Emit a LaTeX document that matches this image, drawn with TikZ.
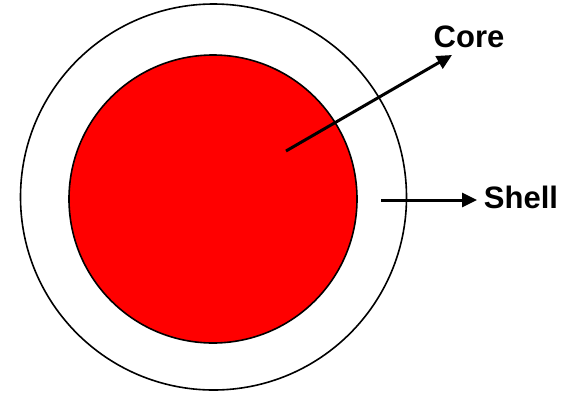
\documentclass[tikz,border=0pt]{standalone}
\usepackage{fontspec}
\setmainfont{Liberation Sans}
\usetikzlibrary{arrows.meta}
\begin{document}
\begin{tikzpicture}[x=1pt,y=-1pt,
  ring/.style={circle,draw=black,line width=1.6pt,inner sep=0pt},
  lbl/.style={font=\bfseries\fontsize{31}{36}\selectfont,inner sep=0pt},
  pointer/.style={line width=3pt,-{Triangle[length=15pt,width=14pt]}}]
\useasboundingbox (0,0) rectangle (571,392);
\node[ring,minimum size=386pt] (shell) at (213.5,197) {};
\node[ring,fill=red,minimum size=288pt] (core) at (213,199) {};
\node[lbl] (corelbl) at (469,37) {Core};
\node[lbl] (shelllbl) at (521,197) {Shell};
\coordinate (cstart) at (286,151);
\coordinate (cend) at (452,55);
\coordinate (sstart) at (381,200);
\coordinate (send) at (477,200);
\draw[pointer] (cstart) -- (cend);
\draw[pointer] (sstart) -- (send);
\end{tikzpicture}
\end{document}
